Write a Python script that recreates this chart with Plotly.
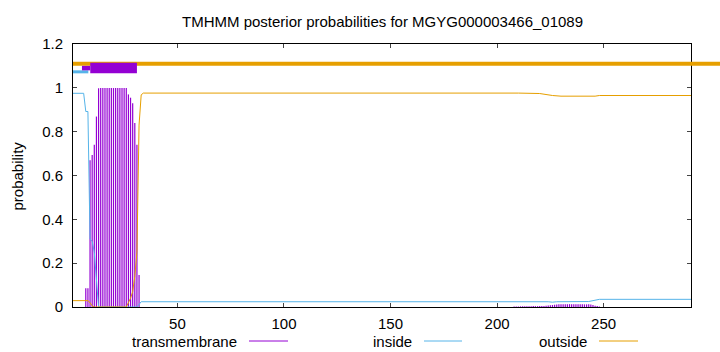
import plotly.graph_objects as go

# ---------------- data ----------------
seq_len = 291
title_text = "TMHMM posterior probabilities for MGYG000003466_01089"
x_ticks = [50, 100, 150, 200, 250]
y_ticks = [0, 0.2, 0.4, 0.6, 0.8, 1.0, 1.2]
y_tick_labels = ["0", "0.2", "0.4", "0.6", "0.8", "1", "1.2"]

# inside probability (breakpoints of the line)
inside_x = [1, 6, 7, 8, 9, 10, 11, 12, 13, 31, 32, 33, 224, 226, 228, 243, 248, 291]
inside_y = [0.975, 0.975, 0.892, 0.892, 0.31, 0.30, 0.25, 0.12, 0.0, 0.0, 0.015, 0.024,
            0.024, 0.022, 0.024, 0.025, 0.035, 0.035]

# outside probability (breakpoints of the line)
outside_x = [1, 8, 9, 10, 11, 26, 27, 28, 29, 30, 31, 32, 33, 34, 210, 220, 226, 230, 246, 248, 291]
outside_y = [0.029, 0.029, 0.02, 0.005, 0.0, 0.0, 0.02, 0.04, 0.07, 0.14, 0.25, 0.83, 0.968, 0.976,
             0.976, 0.974, 0.965, 0.962, 0.962, 0.965, 0.965]

# transmembrane probability (impulses)
tm_x = [7, 8, 9, 10, 11, 12, 13, 14, 15, 16, 17, 18, 19, 20, 21, 22, 23, 24, 25, 26,
        27, 28, 29, 30, 31, 32,
        208, 209, 210, 211, 212, 213, 214, 215, 216, 217, 218, 219, 220, 221, 222, 223,
        224, 225, 226, 227, 228, 229, 230, 231, 232, 233, 234, 235, 236, 237, 238, 239,
        240, 241, 242, 243, 244, 245, 246, 247, 248]
tm_y = [0.085, 0.085, 0.67, 0.694, 0.74, 0.869, 0.998, 0.999, 0.999, 0.999, 0.999, 0.999,
        0.999, 0.999, 0.999, 0.999, 0.999, 0.999, 0.999, 0.999,
        0.97, 0.955, 0.93, 0.84, 0.74, 0.146,
        0.002, 0.002, 0.002, 0.003, 0.003, 0.003, 0.003, 0.003, 0.003, 0.004, 0.004, 0.004,
        0.004, 0.005, 0.005, 0.006, 0.007, 0.008, 0.009, 0.010, 0.011, 0.012, 0.012, 0.013,
        0.013, 0.013, 0.013, 0.013, 0.013, 0.013, 0.013, 0.013, 0.013, 0.012, 0.012, 0.012,
        0.011, 0.009, 0.006, 0.004, 0.002]

# predicted topology segments (start, end)
seg_inside = (1, 8.2)
seg_tm_lead = (5.2, 9.1)
seg_tm = (9.1, 31)

C_TM = "#9400d3"
C_IN = "#56b4e9"
C_OUT = "#e69f00"
FONT = "Liberation Sans, Arial, sans-serif"
FS = 15

W, H = 720, 352
ML, MR, MT, MB = 73, 29, 44, 45
PW, PH = W - ML - MR, H - MT - MB


def px_x(px):
    return (px - ML) / PW


def px_y(py):
    return (H - MB - py) / PH


# impulses: vertical segments from 0 to each value
imp_x, imp_y = [], []
for xv, yv in zip(tm_x, tm_y):
    imp_x += [xv, xv, None]
    imp_y += [0, yv, None]

fig = go.Figure()
fig.add_trace(go.Scatter(x=imp_x, y=imp_y, mode="lines", connectgaps=False,
                         line=dict(color=C_TM, width=1.2), showlegend=False))
fig.add_trace(go.Scatter(x=inside_x, y=inside_y, mode="lines",
                         line=dict(color=C_IN, width=1), showlegend=False))
fig.add_trace(go.Scatter(x=outside_x, y=outside_y, mode="lines",
                         line=dict(color=C_OUT, width=1), showlegend=False))

shapes = []
# outside topology bar (extends past the frame)
shapes.append(dict(type="line", xref="paper", yref="paper", x0=0, x1=px_x(W),
                   y0=1.11 / 1.2, y1=1.11 / 1.2, line=dict(color=C_OUT, width=4)))
shapes.append(dict(type="line", xref="x", yref="y", x0=seg_inside[0], x1=seg_inside[1],
                   y0=1.073, y1=1.073, line=dict(color=C_IN, width=3)))
shapes.append(dict(type="line", xref="x", yref="y", x0=seg_tm_lead[0], x1=seg_tm_lead[1],
                   y0=1.09, y1=1.09, line=dict(color=C_TM, width=4.5)))
shapes.append(dict(type="rect", xref="x", yref="y", x0=seg_tm[0], x1=seg_tm[1],
                   y0=1.066, y1=1.115, fillcolor=C_TM, line=dict(width=0)))

# legend samples
legend_items = [("transmembrane", C_TM, 239, 249, 288),
                ("inside", C_IN, 414, 424, 462),
                ("outside", C_OUT, 589, 599, 638)]
annotations = []
for name, col, tx, l0, l1 in legend_items:
    annotations.append(dict(text=name, xref="paper", yref="paper", x=px_x(tx), y=px_y(341),
                            xanchor="right", yanchor="middle", showarrow=False,
                            font=dict(family=FONT, size=FS, color="black")))
    shapes.append(dict(type="line", xref="paper", yref="paper", x0=px_x(l0), x1=px_x(l1),
                       y0=px_y(341), y1=px_y(341), line=dict(color=col, width=1)))

annotations.append(dict(text=title_text, xref="paper", yref="paper", x=0.5, y=px_y(22),
                        xanchor="center", yanchor="middle", showarrow=False,
                        font=dict(family=FONT, size=FS, color="black")))
annotations.append(dict(text="probability", xref="paper", yref="paper", x=px_x(17), y=0.5,
                        xanchor="center", yanchor="middle", textangle=-90, showarrow=False,
                        font=dict(family=FONT, size=FS, color="black")))

fig.update_layout(
    width=W, height=H,
    margin=dict(l=ML, r=MR, t=MT, b=MB, pad=0),
    paper_bgcolor="white", plot_bgcolor="white",
    font=dict(family=FONT, size=FS, color="black"),
    shapes=shapes, annotations=annotations, showlegend=False,
)
fig.update_xaxes(range=[1, seq_len], tickvals=x_ticks, ticks="inside", ticklen=4,
                 tickcolor="#444", showline=True, linecolor="black", linewidth=1,
                 mirror="ticks", showgrid=False, zeroline=False, ticklabelstandoff=3)
fig.update_yaxes(range=[0, 1.2], tickvals=y_ticks, ticktext=y_tick_labels, ticks="inside",
                 ticklen=4, tickcolor="#444", showline=True, linecolor="black", linewidth=1,
                 mirror="ticks", showgrid=False, zeroline=False, ticklabelstandoff=6)

fig.write_html("out.html")
